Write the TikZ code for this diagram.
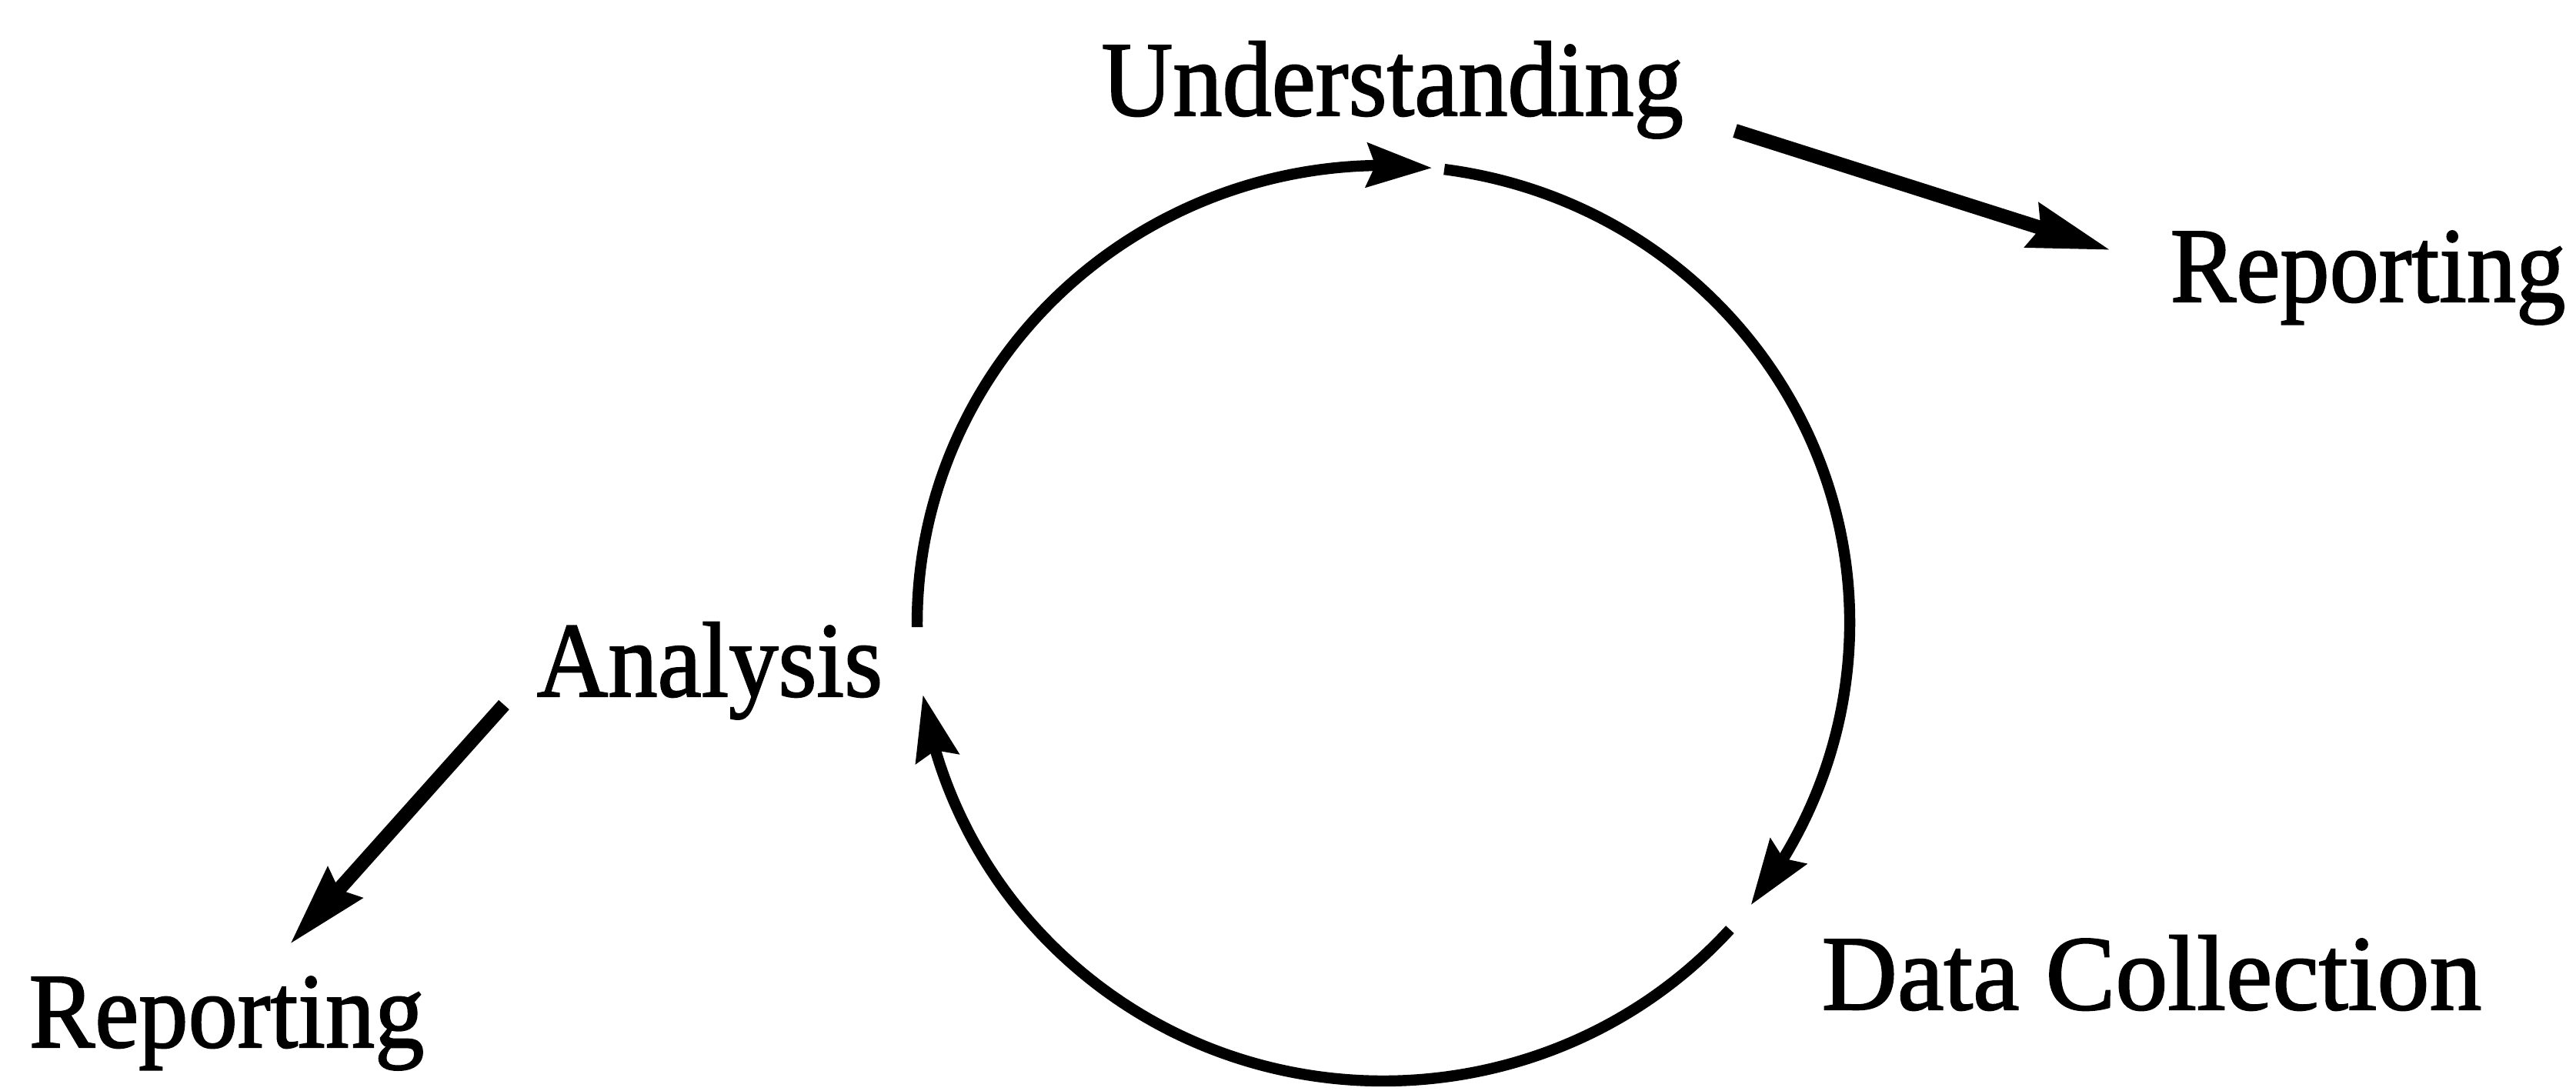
\documentclass[tikz,border=0pt]{standalone}
\usepackage{fontspec}
\setmainfont{Liberation Serif}
\newfontfamily\lblfont[FakeBold=1.5]{Liberation Serif}
\usepackage{graphicx}
\usetikzlibrary{arrows.meta,bending,calc}
\newcommand{\sqz}[1]{\scalebox{0.925}[1]{#1}}
\tikzset{
  lbl/.style={inner sep=0pt, anchor=base west, font=\lblfont\fontsize{39.5pt}{40pt}\selectfont},
  cyc/.style={line width=4.1pt, -{Stealth[length=24pt,width=16pt,inset=3pt]}},
  outarr/.style={line width=5.2pt, -{Stealth[length=30pt,width=16.5pt,inset=3pt]}},
}
\begin{document}
\begin{tikzpicture}
\useasboundingbox (0,0) rectangle (33.48,14.17);
% labels
\node[lbl] (und) at (14.31,12.67) {\sqz{Understanding}};
\node[lbl] (repR) at (28.20,10.25) {\sqz{Reporting}};
\node[lbl] (ana) at (6.97,5.12) {\sqz{Analysis}};
\node[lbl] (repL) at (0.37,0.56) {\sqz{Reporting}};
\node[lbl] (dat) at (23.67,1.05) {\scalebox{0.98}[1]{Data Collection}};
% cycle geometry
\coordinate (c) at (17.98,6.07);
\def\rx{6.06}
\def\ry{5.95}
\coordinate (a1s) at ($(c)+(180.5:\rx cm and \ry cm)$);
\coordinate (a2s) at ($(c)+(82.5:\rx cm and \ry cm)$);
\coordinate (a3s) at ($(c)+(-42:\rx cm and \ry cm)$);
% Analysis -> Understanding
\draw[cyc] (a1s) arc[start angle=180.5, end angle=84, x radius=\rx cm, y radius=\ry cm];
% Understanding -> Data Collection
\draw[cyc] (a2s) arc[start angle=82.5, end angle=-38, x radius=\rx cm, y radius=\ry cm];
% Data Collection -> Analysis
\draw[cyc] (a3s) arc[start angle=-42, end angle=-171, x radius=\rx cm, y radius=\ry cm];
% outgoing reporting arrows
\coordinate (uo) at (22.55,12.47);
\coordinate (ui) at (27.43,10.92);
\coordinate (ao) at (6.55,5.01);
\coordinate (ai) at (3.77,1.90);
\draw[outarr] (uo) -- (ui);
\draw[outarr] (ao) -- (ai);
\end{tikzpicture}
\end{document}
